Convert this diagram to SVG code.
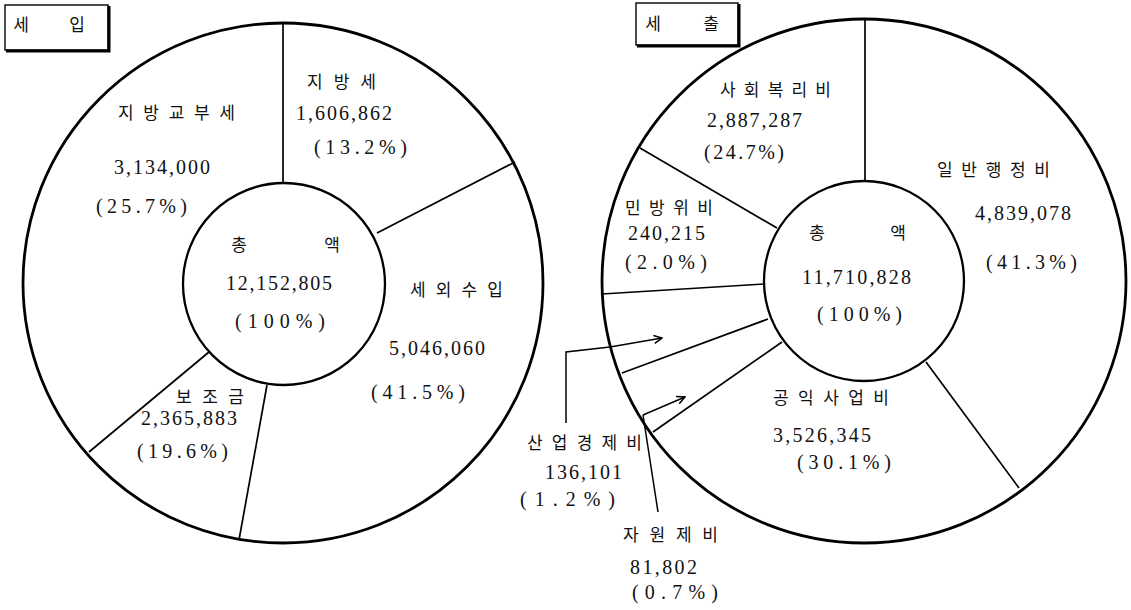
<svg xmlns="http://www.w3.org/2000/svg" width="1131" height="610" viewBox="0 0 1131 610">
<style>
.bg{fill:#fff}
.outer{fill:none;stroke:#000;stroke-width:2.8}
.inner{fill:none;stroke:#000;stroke-width:2.3}
.div{fill:none;stroke:#000;stroke-width:1.7}
.lead{fill:none;stroke:#000;stroke-width:1.5}
.kr{font-family:"Liberation Serif","Noto Sans CJK KR",serif;font-size:17px;fill:#111}
.num{font-family:"Liberation Serif","Noto Sans CJK KR",serif;font-size:20px;fill:#111}
.box{fill:#fff;stroke:#000;stroke-width:1.4}
.shadow{fill:none;stroke:#000;stroke-width:3}
</style>
<defs>
<marker id="arr" viewBox="0 0 10 10" refX="9" refY="5" markerWidth="10" markerHeight="10" markerUnits="userSpaceOnUse" orient="auto">
<path d="M1,1 L9,5 L1,9" fill="none" stroke="#000" stroke-width="1.5"/>
</marker>
</defs>
<rect class="bg" x="0" y="0" width="1131" height="610"/>

<g id="title-income">
<rect class="box" x="5" y="5" width="103" height="45"/>
<path class="shadow" d="M109,6 L109,51 L6,51"/>
<text class="kr" x="21" y="31" text-anchor="middle">세</text>
<text class="kr" x="77" y="31" text-anchor="middle">입</text>
</g>

<g id="title-expense">
<rect class="box" x="636" y="3" width="102" height="42"/>
<path class="shadow" d="M739,4 L739,46 L637,46"/>
<text class="kr" x="653" y="30" text-anchor="middle">세</text>
<text class="kr" x="711" y="30" text-anchor="middle">출</text>
</g>

<g id="chart-income">
<circle class="outer" cx="283" cy="283" r="260"/>
<circle class="inner" cx="284" cy="284" r="101"/>
<line class="div" x1="283" y1="23" x2="283" y2="183"/>
<line class="div" x1="515" y1="162" x2="377" y2="233"/>
<line class="div" x1="267" y1="385" x2="239" y2="540"/>
<line class="div" x1="209" y1="352" x2="89" y2="452"/>
</g>

<g id="chart-expense">
<circle class="outer" cx="864" cy="281" r="262"/>
<circle class="inner" cx="864" cy="281" r="100"/>
<line class="div" x1="865" y1="19" x2="865" y2="181"/>
<line class="div" x1="640" y1="148" x2="777" y2="228"/>
<line class="div" x1="602" y1="294" x2="764" y2="284"/>
<line class="div" x1="622" y1="373" x2="768" y2="319"/>
<line class="div" x1="653" y1="432" x2="782" y2="342"/>
<line class="div" x1="926" y1="362" x2="1019" y2="488"/>
</g>

<g id="connectors">
<polyline class="lead" points="566,423 566,352 610,347 662,338" marker-end="url(#arr)"/>
<line class="lead" x1="643" y1="415" x2="685" y2="397" marker-end="url(#arr)"/>
<line class="lead" x1="643" y1="415" x2="658" y2="512"/>
</g>

<g id="node-local-allocation">
<text class="kr" x="118" y="119" textLength="117" lengthAdjust="spacing">지방교부세</text>
<text class="num" x="114" y="174" textLength="96" lengthAdjust="spacing">3,134,000</text>
<text class="num" x="96" y="213" textLength="91" lengthAdjust="spacing">(25.7%)</text>
</g>
<g id="node-local-tax">
<text class="kr" x="307" y="88" textLength="69" lengthAdjust="spacing">지방세</text>
<text class="num" x="296" y="120" textLength="96" lengthAdjust="spacing">1,606,862</text>
<text class="num" x="314" y="154" textLength="93" lengthAdjust="spacing">(13.2%)</text>
</g>
<g id="node-income-total">
<text class="kr" x="239" y="251" text-anchor="middle">총</text>
<text class="kr" x="332" y="251" text-anchor="middle">액</text>
<text class="num" x="226" y="290" textLength="106" lengthAdjust="spacing">12,152,805</text>
<text class="num" x="235" y="328" textLength="90" lengthAdjust="spacing">(100%)</text>
</g>
<g id="node-nontax">
<text class="kr" x="410" y="296" textLength="93" lengthAdjust="spacing">세외수입</text>
<text class="num" x="389" y="355" textLength="96" lengthAdjust="spacing">5,046,060</text>
<text class="num" x="371" y="399" textLength="94" lengthAdjust="spacing">(41.5%)</text>
</g>
<g id="node-subsidy">
<text class="kr" x="176" y="403" textLength="68" lengthAdjust="spacing">보조금</text>
<text class="num" x="141" y="425" textLength="96" lengthAdjust="spacing">2,365,883</text>
<text class="num" x="137" y="458" textLength="91" lengthAdjust="spacing">(19.6%)</text>
</g>

<g id="node-welfare">
<text class="kr" x="720" y="96" textLength="111" lengthAdjust="spacing">사회복리비</text>
<text class="num" x="707" y="127" textLength="95" lengthAdjust="spacing">2,887,287</text>
<text class="num" x="704" y="159" textLength="80" lengthAdjust="spacing">(24.7%)</text>
</g>
<g id="node-general-admin">
<text class="kr" x="937" y="176" textLength="113" lengthAdjust="spacing">일반행정비</text>
<text class="num" x="975" y="220" textLength="96" lengthAdjust="spacing">4,839,078</text>
<text class="num" x="986" y="269" textLength="91" lengthAdjust="spacing">(41.3%)</text>
</g>
<g id="node-civil-defense">
<text class="kr" x="625" y="214" textLength="88" lengthAdjust="spacing">민방위비</text>
<text class="num" x="628" y="240" textLength="77" lengthAdjust="spacing">240,215</text>
<text class="num" x="625" y="269" textLength="82" lengthAdjust="spacing">(2.0%)</text>
</g>
<g id="node-expense-total">
<text class="kr" x="817" y="239" text-anchor="middle">총</text>
<text class="kr" x="898" y="239" text-anchor="middle">액</text>
<text class="num" x="802" y="284" textLength="109" lengthAdjust="spacing">11,710,828</text>
<text class="num" x="817" y="321" textLength="85" lengthAdjust="spacing">(100%)</text>
</g>
<g id="node-public-works">
<text class="kr" x="773" y="404" textLength="116" lengthAdjust="spacing">공익사업비</text>
<text class="num" x="773" y="442" textLength="98" lengthAdjust="spacing">3,526,345</text>
<text class="num" x="797" y="469" textLength="94" lengthAdjust="spacing">(30.1%)</text>
</g>
<g id="node-industry">
<text class="kr" x="527" y="449" textLength="115" lengthAdjust="spacing">산업경제비</text>
<text class="num" x="545" y="479" textLength="77" lengthAdjust="spacing">136,101</text>
<text class="num" x="520" y="506" textLength="95" lengthAdjust="spacing">(1.2%)</text>
</g>
<g id="node-resources">
<text class="kr" x="623" y="541" textLength="95" lengthAdjust="spacing">자원제비</text>
<text class="num" x="630" y="574" textLength="67" lengthAdjust="spacing">81,802</text>
<text class="num" x="632" y="599" textLength="86" lengthAdjust="spacing">(0.7%)</text>
</g>
</svg>
